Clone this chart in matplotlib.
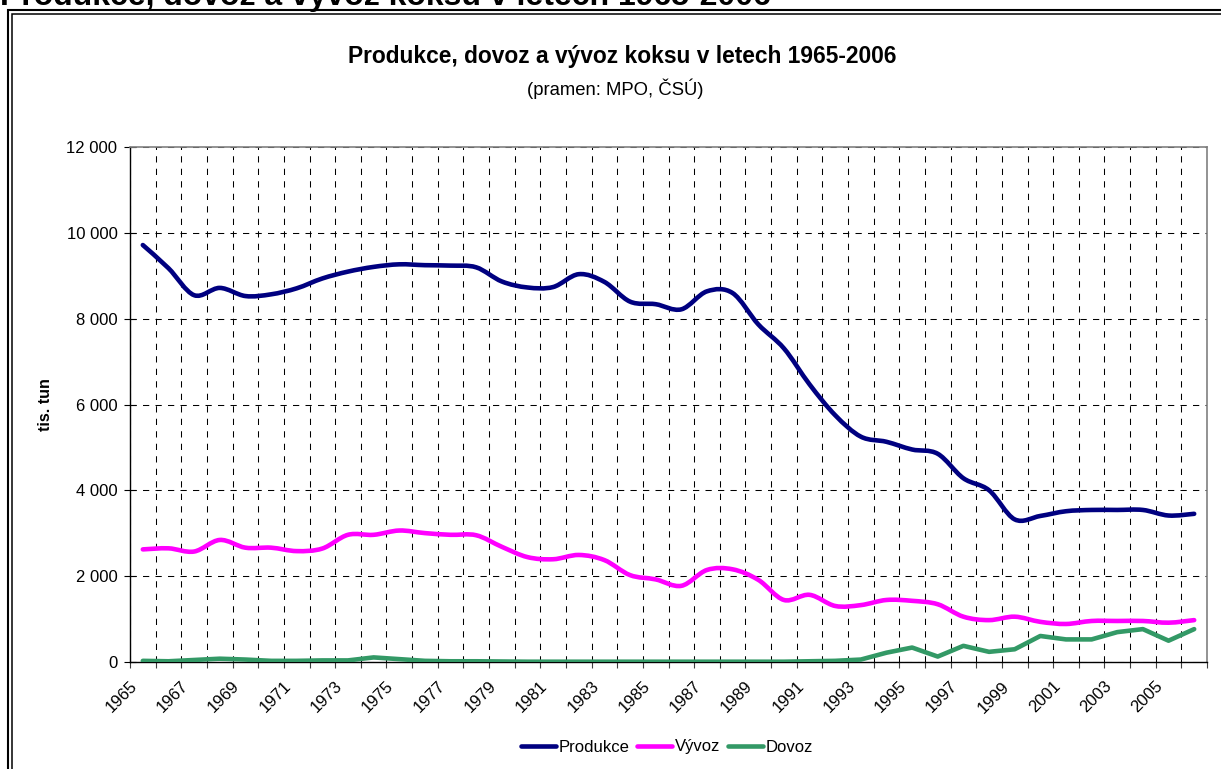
import matplotlib
matplotlib.use("Agg")
import matplotlib.pyplot as plt
from matplotlib.path import Path
from matplotlib.patches import PathPatch, Rectangle
from matplotlib.lines import Line2D
from matplotlib.ticker import FixedLocator, FuncFormatter, NullFormatter
from matplotlib.transforms import ScaledTranslation

plt.rcParams['font.family'] = ['Liberation Sans', 'DejaVu Sans']

# ---------------- data ----------------
years = list(range(1965, 2007))
produkce = [9720, 9180, 8550, 8720, 8530, 8570, 8710, 8940, 9100, 9210,
            9270, 9250, 9240, 9200, 8870, 8730, 8740, 9040, 8860, 8400,
            8340, 8220, 8640, 8600, 7870, 7310, 6470, 5750, 5250, 5130,
            4950, 4850, 4280, 4000, 3320, 3400, 3510, 3540, 3540, 3540,
            3410, 3450]
vyvoz = [2620, 2645, 2570, 2840, 2660, 2660, 2580, 2640, 2960, 2960,
         3060, 3000, 2960, 2950, 2680, 2440, 2390, 2490, 2370, 2020,
         1920, 1770, 2140, 2155, 1910, 1440, 1560, 1300, 1320, 1440,
         1420, 1340, 1050, 970, 1050, 930, 880, 950, 950, 950,
         910, 970]
dovoz = [20, 10, 40, 70, 50, 20, 20, 30, 30, 100,
         60, 20, 10, 10, 5, 0, 0, 0, 0, 0,
         0, 0, 0, 0, 0, 0, 10, 20, 50, 210,
         330, 120, 370, 230, 290, 600, 520, 520, 690, 760,
         490, 760]
series_names = ["Produkce", "Vývoz", "Dovoz"]
series_colors = ["#000080", "#FF00FF", "#339966"]
yticks = [0, 2000, 4000, 6000, 8000, 10000, 12000]
heading = "Produkce, dovoz a vývoz koksu v letech 1965-2006"
title = "Produkce, dovoz a vývoz koksu v letech 1965-2006"
subtitle = "(pramen: MPO, ČSÚ)"
ylabel = "tis. tun"

W, H = 1221, 769
fig = plt.figure(figsize=(W / 100, H / 100), dpi=100)
fig.patch.set_facecolor("white")

# double border frame (extends past right/bottom edges)
fig.add_artist(Rectangle((8.3 / W, -0.1), 1.2, 1 - 10.0 / H + 0.1,
                         transform=fig.transFigure, fill=False,
                         edgecolor="black", lw=1.5))
fig.add_artist(Rectangle((11.8 / W, -0.1), 1.2, 1 - 14.0 / H + 0.1,
                         transform=fig.transFigure, fill=False,
                         edgecolor="black", lw=1.1))

# cropped heading at the very top
fig.text(0.0, 1 - 5.0 / H, heading, fontsize=23, fontweight="bold",
         ha="left", va="baseline")

left, right, top, bottom = 130 / W, 1207 / W, 147.3 / H, 661.7 / H
ax = fig.add_axes([left, 1 - bottom, right - left, bottom - top])

x = list(range(len(years)))


def smooth_path(xs, ys):
    verts = [(xs[0], ys[0])]
    codes = [Path.MOVETO]
    n = len(xs)
    for i in range(n - 1):
        p0 = (xs[i - 1], ys[i - 1]) if i > 0 else (xs[i], ys[i])
        p1 = (xs[i], ys[i])
        p2 = (xs[i + 1], ys[i + 1])
        p3 = (xs[i + 2], ys[i + 2]) if i + 2 < n else p2
        c1 = (p1[0] + (p2[0] - p0[0]) / 6, p1[1] + (p2[1] - p0[1]) / 6)
        c2 = (p2[0] - (p3[0] - p1[0]) / 6, p2[1] - (p3[1] - p1[1]) / 6)
        verts += [c1, c2, p2]
        codes += [Path.CURVE4] * 3
    return Path(verts, codes)


LW = 3.3
for vals, col in [(produkce, series_colors[0]), (vyvoz, series_colors[1])]:
    ax.add_patch(PathPatch(smooth_path(x, vals), fill=False, edgecolor=col,
                           lw=LW, capstyle="round", joinstyle="round",
                           zorder=3))
ax.plot(x, dovoz, color=series_colors[2], lw=LW, solid_capstyle="round",
        solid_joinstyle="round", zorder=3)

ax.set_xlim(-0.5, len(years) - 0.5)
ax.set_ylim(yticks[0], yticks[-1])

# x axis: boundaries as major ticks (grid), labels on odd years as minor
ax.xaxis.set_major_locator(FixedLocator([i - 0.5 for i in range(len(years) + 1)]))
ax.xaxis.set_major_formatter(NullFormatter())
lab_pos = [i for i, yr in enumerate(years) if (yr - 1965) % 2 == 0]
ax.xaxis.set_minor_locator(FixedLocator(lab_pos))
ax.xaxis.set_minor_formatter(FuncFormatter(lambda v, p: str(years[int(round(v))])))
ax.tick_params(axis="x", which="major", direction="out", length=4.3,
               width=0.8, color="#404040")
ax.tick_params(axis="x", which="minor", length=0, pad=16.0, labelsize=12,
               labelrotation=45)
for lab in ax.get_xticklabels(minor=True):
    lab.set_ha("right")
    lab.set_va("center")
    lab.set_rotation_mode("anchor")
    lab.set_transform(lab.get_transform() +
                      ScaledTranslation(-8.0 / 100, 0, fig.dpi_scale_trans))

ax.set_yticks(yticks)
ax.yaxis.set_major_formatter(FuncFormatter(lambda v, p: f"{int(v):,}".replace(",", " ")))
ax.tick_params(axis="y", direction="inout", length=8, width=0.8, pad=5.0,
               labelsize=12)

ax.grid(True, which="major", color="black", lw=0.75,
        linestyle=(0, (6.0, 6.0)))
ax.set_axisbelow(True)

for s in ["top", "right"]:
    ax.spines[s].set_color("#808080")
    ax.spines[s].set_linewidth(1.2)
for s in ["left", "bottom"]:
    ax.spines[s].set_color("black")
    ax.spines[s].set_linewidth(1.0)

fig.text(45 / W, 1 - 405 / H, ylabel, rotation=90, fontsize=11.5,
         fontweight="bold", ha="center", va="center")

fig.text(622 / W, 1 - 57 / H, title, fontsize=16.4, fontweight="bold",
         ha="center", va="center")
fig.text(615 / W, 1 - 89 / H, subtitle, fontsize=13.3, ha="center",
         va="center")

handles = [Line2D([], [], color=c, lw=LW, solid_capstyle="round")
           for c in series_colors]
fig.legend(handles, series_names, loc="center",
           bbox_to_anchor=(667 / W, 1 - 747 / H), ncol=3, frameon=False,
           fontsize=12, handlelength=2.1, handletextpad=0.15,
           columnspacing=0.45)

fig.savefig("out.png", dpi=100, facecolor="white")
